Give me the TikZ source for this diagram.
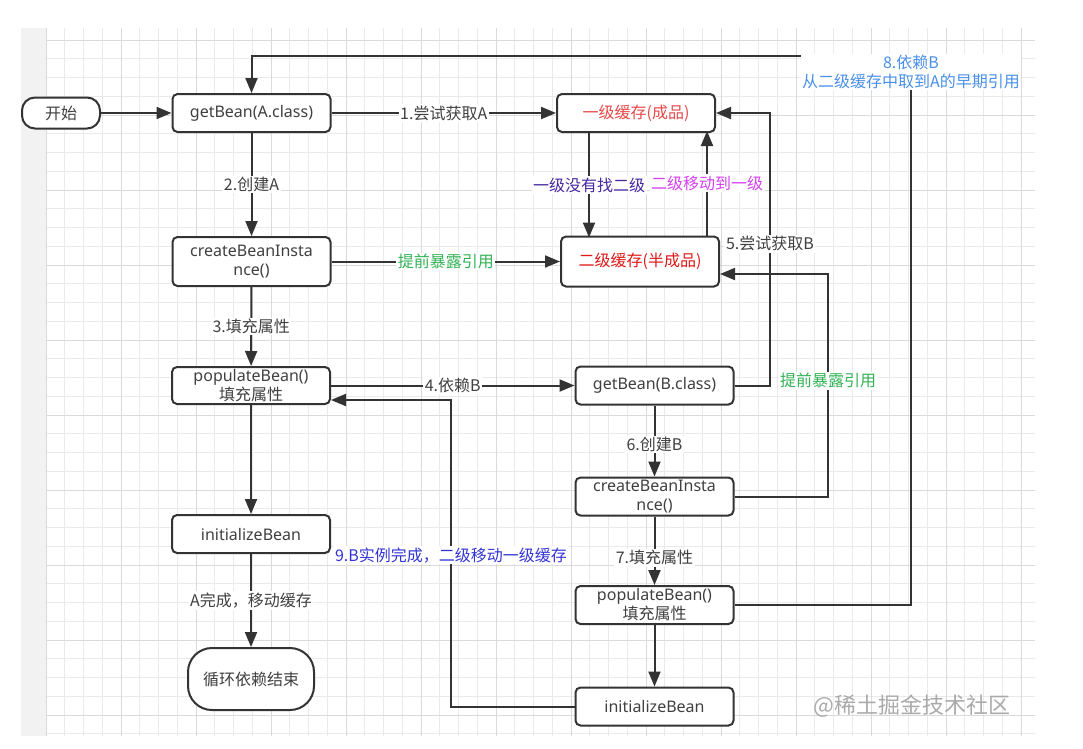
\documentclass[tikz,border=0pt]{standalone}
\usepackage{fontspec}
\setmainfont{Noto Sans CJK SC}
\newfontfamily\latinfont{Noto Sans}
\usetikzlibrary{arrows.meta,positioning}
\definecolor{linegray}{RGB}{51,51,51}
\definecolor{textgray}{RGB}{64,64,64}
\definecolor{gridminor}{RGB}{234,234,234}
\definecolor{gridmajor}{RGB}{218,218,218}
\definecolor{stripgray}{RGB}{242,242,242}
\definecolor{cacheone}{RGB}{232,72,72}
\definecolor{cachetwo}{RGB}{222,24,24}
\definecolor{exposegreen}{RGB}{50,178,85}
\definecolor{findpurple}{RGB}{72,40,160}
\definecolor{movepink}{RGB}{214,64,240}
\definecolor{doneblue}{RGB}{52,52,214}
\definecolor{depblue}{RGB}{74,144,232}
\definecolor{markgray}{RGB}{170,170,170}

\begin{document}
\begin{tikzpicture}[x=1pt, y=-1pt,
    box/.style={draw=linegray, line width=2pt, rounded corners=5pt, fill=white, text=textgray,
      align=center, minimum width=158pt, minimum height=38pt, inner sep=1pt,
      font=\fontsize{16}{19}\selectfont},
    codebox/.style={box, font=\latinfont\fontsize{16}{19}\selectfont},
    lbl/.style={fill=white, inner sep=1.5pt, text=textgray, align=center,
      font=\fontsize{16}{19}\selectfont},
    flow/.style={draw=linegray, line width=2pt, -{Triangle[length=15pt,width=12pt]}}]
    \useasboundingbox (0,0) rectangle (1083,748);
    \fill[white] (0,0) rectangle (1083,748);
    \fill[stripgray] (21,28) rectangle (46,736);
    \foreach \gx in {0,...,52}
        \draw[gridminor, line width=0.8pt] ({46+18.75*\gx},28) -- ({46+18.75*\gx},736);
    \foreach \gy in {0,...,37}
        \draw[gridminor, line width=0.8pt] (46,{40+18.75*\gy}) -- (1035,{40+18.75*\gy});
    \foreach \gx in {0,...,13}
        \draw[gridmajor, line width=0.8pt] ({46+75*\gx},28) -- ({46+75*\gx},736);
    \foreach \gy in {0,...,9}
        \draw[gridmajor, line width=0.8pt] (46,{40+75*\gy}) -- (1035,{40+75*\gy});

    \node[box, rounded corners=13pt, minimum width=78pt, minimum height=31pt] (start) at (61,113) {开始};
    \node[codebox] (getA) at (251.5,113) {getBean(A.class)};
    \node[codebox, minimum height=49pt] (createA) at (251.5,261.5) {createBeanInsta\\nce()};
    \node[box, minimum height=37pt] (popA) at (251,385.5) {{\latinfont populateBean()}\\填充属性};
    \node[codebox] (initA) at (251,534) {initializeBean};
    \node[box, rounded corners=24pt, minimum width=126pt, minimum height=62pt] (finish) at (251,679) {循环依赖结束};

    \node[box, text=cacheone] (cacheOne) at (636,113) {一级缓存(成品)};
    \node[box, text=cachetwo, minimum height=50pt] (cacheTwo) at (640,261.5) {二级缓存(半成品)};

    \node[codebox] (getB) at (654.5,385.5) {getBean(B.class)};
    \node[codebox] (createB) at (654.5,496.5) {createBeanInsta\\nce()};
    \node[box] (popB) at (654.5,605) {{\latinfont populateBean()}\\填充属性};
    \node[codebox] (initB) at (654.5,706.5) {initializeBean};

    \node[text=markgray, font=\fontsize{22}{24}\selectfont] (mark) at (912,706) {@稀土掘金技术社区};

    \draw[flow] (start) -- (getA);
    \draw[flow] (getA) -- node[lbl] {1.尝试获取A} (cacheOne);
    \draw[flow] (getA) -- node[lbl] {2.创建A} (createA);
    \draw[flow] (createA) -- node[lbl, text=exposegreen] {提前暴露引用} (cacheTwo);
    \draw[flow] (createA) -- node[lbl] {3.填充属性} (popA);
    \draw[flow] (popA) -- node[lbl] {4.依赖B} (getB);
    \draw[flow] (popA) -- (initA);
    \draw[flow] (initA) -- node[lbl] {A完成，移动缓存} (finish);

    \draw[flow] ([xshift=-47pt]cacheOne.south) -- node[lbl, text=findpurple] {一级没有找二级} ++(0,104.5);
    \draw[flow] ([xshift=67pt]cacheTwo.north) -- node[lbl, text=movepink] {二级移动到一级} ++(0,-104.5);

    \draw[flow] (getB.east) -- ++(35.5,0) |- node[lbl, pos=0.26] {5.尝试获取B} (cacheOne.east);
    \draw[flow] (createB.east) -- ++(93.5,0) |- node[lbl, text=exposegreen, pos=0.26] {提前暴露引用} ([yshift=-12.5pt]cacheTwo.east);
    \draw[flow] (getB) -- node[lbl, pos=0.55] {6.创建B} (createB);
    \draw[flow] (createB) -- node[lbl, pos=0.6] {7.填充属性} (popB);
    \draw[flow] (popB) -- (initB);

    \draw[flow] (popB.east) -- ++(176.5,0) |- node[lbl, text=depblue, yshift=-16pt] (depNote) {8.依赖B\\从二级缓存中取到A的早期引用} ([yshift=37pt]getA.north) -- (getA.north);
    \draw[flow] (initB.west) -- ++(-123.5,0) |- node[lbl, text=doneblue, pos=0.247] {9.B实例完成，二级移动一级缓存} ([yshift=-14.5pt]popA.east);
\end{tikzpicture}
\end{document}
